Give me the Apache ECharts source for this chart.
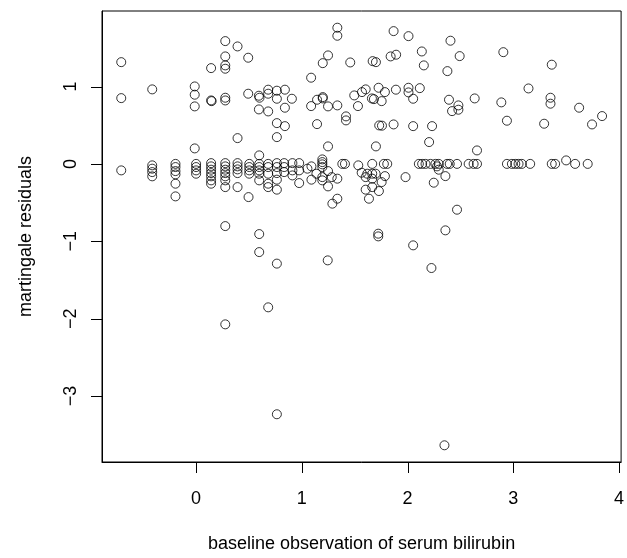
<!DOCTYPE html>
<html>
<head>
<meta charset="utf-8">
<title>martingale residuals vs bilirubin</title>
<script src="https://cdn.jsdelivr.net/npm/echarts@6.0.0/dist/echarts.min.js"></script>
<style>
  html, body { margin: 0; padding: 0; background: #fff; }
  #chart { width: 627px; height: 558px; }
</style>
</head>
<body>
<div id="chart"></div>
<script>
// log bilirubin at baseline (x) and martingale residual (y), one entry per subject
const bilirubin = [
  -0.708, -0.708, -0.415, -0.013, -0.013, -0.013, -0.013, 0.142, 0.142, 0.147,
  0.276, 0.276, 0.276, 0.276, 0.276, 0.276, 0.392, 0.392, 0.493, 0.493,
  1.336, 1.336, 1.868, 2.009, 1.248, 1.198, 1.458, 1.670, 1.701, 1.840,
  1.892, 2.135, 2.154, 1.088, 0.594, 0.600, 0.682, 0.682, 0.764, 0.764,
  0.840, 0.906, 0.594, 0.682, 0.840, 0.764, 0.840, 0.764, 1.144, 1.248,
  1.088, 1.144, 1.198, 1.198, 1.248, 1.336, 1.418, 1.418, 1.496, 1.531,
  1.569, 1.604, 1.663, 1.682, 1.726, 1.755, 1.786, 1.890, 2.009, 2.009,
  2.053, 2.116, 1.732, 1.758, 1.868, 2.053, 2.232, 2.204, 1.701, 2.406,
  2.493, 2.377, 2.906, 3.364, 3.144, 2.392, 2.481, 2.481, 2.421, 2.635,
  2.887, 3.352, 3.352, 3.623, 2.940, 3.292, 3.745, 3.840, 2.657,
  // dense band around zero
  -0.708, -0.415, -0.415, -0.415, -0.415,
  -0.195, -0.195, -0.195, -0.195, -0.195, -0.195,
  0, 0, 0, 0,
  0.142, 0.142, 0.142, 0.142, 0.142, 0.142, 0.142,
  0.276, 0.276, 0.276, 0.276, 0.276, 0.276, 0.276,
  0.392, 0.392, 0.392, 0.392, 0.392,
  0.496, 0.503, 0.503, 0.503, 0.503,
  0.597, 0.597, 0.597, 0.597, 0.597, 0.597,
  0.682, 0.682, 0.682, 0.682, 0.682,
  0.764, 0.764, 0.764, 0.764, 0.764,
  0.833, 0.833, 0.833, 0.911, 0.911, 0.911, 0.975, 0.975, 0.975,
  1.053, 1.091, 1.091, 1.138,
  1.194, 1.194, 1.194, 1.194, 1.194, 1.194,
  1.248, 1.248, 1.283, 1.336, 1.336, 1.289, 1.383, 1.408,
  1.534, 1.566, 1.604, 1.619, 1.666, 1.666, 1.666, 1.604, 1.666, 1.635,
  1.729, 1.698, 1.755, 1.786, 1.776, 1.808, 1.981, 1.723, 1.723,
  2.107, 2.138, 2.170, 2.217, 2.264, 2.295, 2.374, 2.399, 2.468,
  2.279, 2.295, 2.248, 2.358,
  2.578, 2.625, 2.657,
  2.940, 2.987, 3.019, 3.050, 3.081, 3.160,
  3.364, 3.396, 3.500, 3.585, 3.704,
  2.468, 2.358,
  // lower tail
  0.276, 0.597, 0.597, 0.764, 1.245, 0.682, 0.276, 2.053, 2.226, 0.764, 2.349
];
const residuals = [
  1.315, 0.850, 0.963, 1.001, 0.894, 0.743, 0.200, 1.238, 0.820, 0.811,
  1.587, 1.389, 1.273, 1.230, 0.855, 0.820, 1.518, 0.333, 1.372, 0.907,
  1.760, 1.656, 1.716, 1.651, 1.402, 1.302, 1.311, 1.328, 1.315, 1.389,
  1.411, 1.453, 1.273, 1.114, 0.881, 0.855, 0.959, 0.907, 0.946, 0.842,
  0.959, 0.842, 0.704, 0.678, 0.726, 0.527, 0.488, 0.346, 0.514, 0.226,
  0.747, 0.829, 0.863, 0.846, 0.743, 0.756, 0.614, 0.562, 0.885, 0.747,
  0.928, 0.963, 0.846, 0.837, 0.984, 0.811, 0.928, 0.959, 0.984, 0.924,
  0.842, 0.979, 0.497, 0.494, 0.510, 0.488, 0.488, 0.282, 0.226, 1.592,
  1.393, 1.199, 1.444, 1.282, 0.975, 0.829, 0.756, 0.700, 0.682, 0.846,
  0.795, 0.855, 0.778, 0.726, 0.558, 0.519, 0.510, 0.618, 0.174,
  -0.084, -0.019, -0.062, -0.106, -0.161,
  0, -0.041, -0.093, -0.136, -0.256, -0.420,
  0, -0.041, -0.084, -0.127,
  0.010, -0.032, -0.075, -0.119, -0.161, -0.213, -0.256,
  0.010, -0.032, -0.075, -0.119, -0.161, -0.213, -0.300,
  0.010, -0.032, -0.071, -0.119, -0.300,
  -0.429, 0, -0.041, -0.084, -0.127,
  0.110, 0, -0.041, -0.084, -0.127, -0.213,
  0, -0.041, -0.127, -0.256, -0.300,
  0.010, -0.041, -0.119, -0.204, -0.333,
  0.010, -0.041, -0.106, 0.010, -0.084, -0.149, 0.010, -0.084, -0.248,
  -0.062, -0.032, -0.204, -0.127,
  0.058, 0.023, -0.006, -0.041, -0.171, -0.213,
  -0.093, -0.291, -0.171, -0.191, -0.450, -0.514, 0, 0,
  -0.019, -0.114, -0.171, -0.127, 0, -0.127, -0.191, -0.333, -0.300, -0.450,
  -0.351, -0.127, -0.235, -0.158, 0, 0, -0.171, -0.902, -0.937,
  0, 0, 0, 0, 0, 0, 0, 0, 0,
  -0.032, -0.075, -0.243, -0.158,
  0, 0, 0,
  0, 0, 0, 0, 0, 0,
  0, 0, 0.045, 0, 0,
  -0.592, -0.859,
  -0.804, -0.907, -1.140, -1.289, -1.247, -1.854, -2.074, -1.053, -1.346, -3.236, -3.637
];
const xTicks = [0, 1, 2, 3, 4];
const yTicks = [-3, -2, -1, 0, 1];
const xTitle = "baseline observation of serum bilirubin";
const yTitle = "martingale residuals";

const xMin = -0.89, xMax = 4.02;
const yMin = -3.853, yMax = 1.976;

const points = bilirubin.map((b, i) => [b, residuals[i]]);

const myChart = echarts.init(document.getElementById("chart"));

const font = "Liberation Sans, Arial, Helvetica, sans-serif";
const minus = v => String(v).replace("-", "\u2212");
const tickLen = 11;

const option = {
  animation: false,
  grid: {
    left: 102,
    right: 4,
    top: 11,
    bottom: 96,
    show: true,
    borderColor: "#000",
    borderWidth: 1
  },
  xAxis: {
    type: "value",
    min: xMin,
    max: xMax,
    axisLine: { show: true, onZero: false, lineStyle: { color: "#000" } },
    splitLine: { show: false },
    axisTick: { show: false },
    axisLabel: {
      customValues: xTicks,
      margin: 28,
      fontFamily: font,
      fontSize: 18,
      color: "#000",
      formatter: minus
    }
  },
  yAxis: {
    type: "value",
    min: yMin,
    max: yMax,
    axisLine: { show: true, onZero: false, lineStyle: { color: "#000" } },
    splitLine: { show: false },
    axisTick: { show: false },
    axisLabel: {
      customValues: yTicks,
      rotate: 90,
      margin: 22,
      fontFamily: font,
      fontSize: 18,
      color: "#000",
      formatter: minus
    }
  },
  series: [
    {
      name: "residuals",
      type: "scatter",
      data: points,
      symbol: "circle",
      symbolSize: 9,
      itemStyle: {
        color: "transparent",
        borderColor: "#000",
        borderWidth: 1
      },
      emphasis: { disabled: true }
    }
  ]
};

myChart.setOption(option);

// tick marks and axis titles, placed through the chart's own scales
// (axisTick with customValues did not show up at the grid edge here)
const gBottom = myChart.convertToPixel({ yAxisIndex: 0 }, yMin);
const gTop = myChart.convertToPixel({ yAxisIndex: 0 }, yMax);
const gLeft = myChart.convertToPixel({ xAxisIndex: 0 }, xMin);
const gRight = myChart.convertToPixel({ xAxisIndex: 0 }, xMax);
const tickStyle = { stroke: "#000", lineWidth: 1 };

const elements = [];
xTicks.forEach(v => {
  const p = Math.round(myChart.convertToPixel({ xAxisIndex: 0 }, v)) + 0.5;
  elements.push({
    type: "line",
    shape: { x1: p, y1: gBottom, x2: p, y2: gBottom + tickLen },
    style: tickStyle
  });
});
yTicks.forEach(v => {
  const p = Math.round(myChart.convertToPixel({ yAxisIndex: 0 }, v)) + 0.5;
  elements.push({
    type: "line",
    shape: { x1: gLeft - tickLen, y1: p, x2: gLeft, y2: p },
    style: tickStyle
  });
});
elements.push({
  type: "text",
  x: (gLeft + gRight) / 2,
  y: 544,
  style: { text: xTitle, fill: "#000", font: "18px " + font, align: "center", verticalAlign: "middle" }
});
elements.push({
  type: "text",
  x: 26,
  y: (gTop + gBottom) / 2,
  rotation: Math.PI / 2,
  style: { text: yTitle, fill: "#000", font: "18px " + font, align: "center", verticalAlign: "middle" }
});

myChart.setOption({ graphic: { elements: elements } });
</script>
</body>
</html>
